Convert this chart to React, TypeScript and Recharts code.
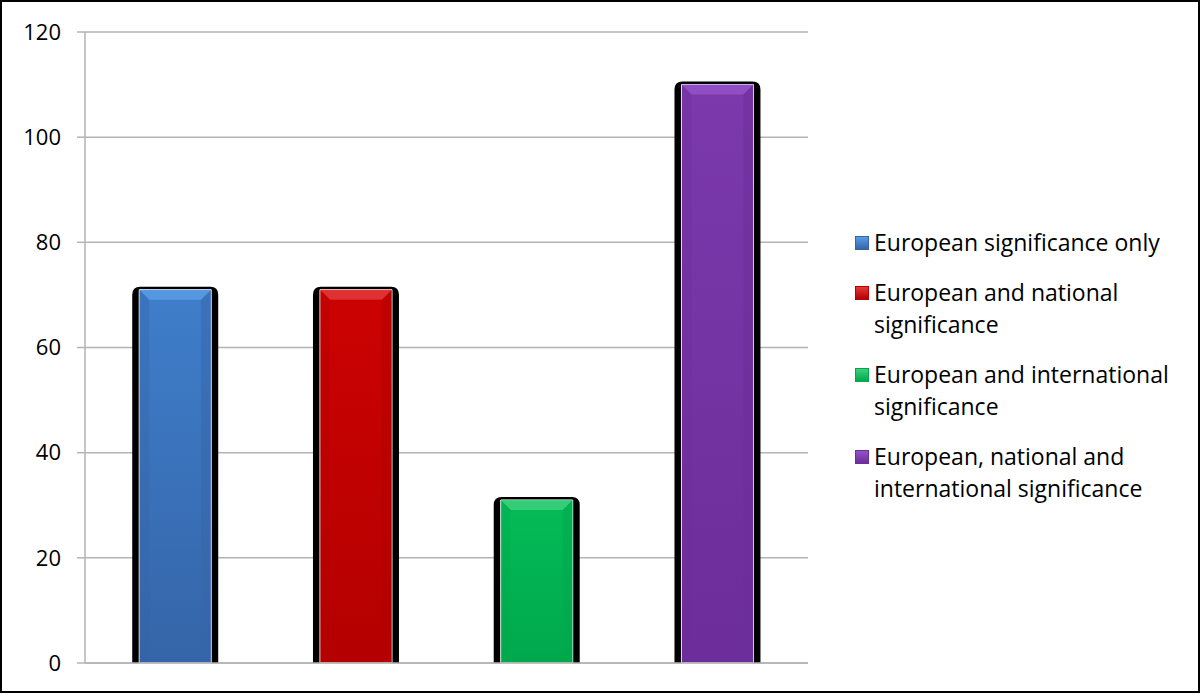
import React from "react";
import { BarChart, Bar, XAxis, YAxis, CartesianGrid, Cell } from "recharts";

const categories = [
  "European significance only",
  "European and national significance",
  "European and international significance",
  "European, national and international significance",
];
const legendLines = [
  ["European significance only"],
  ["European and national", "significance"],
  ["European and international", "significance"],
  ["European, national and", "international significance"],
];
const counts = [71, 71, 31, 110];
const yTicks = [0, 20, 40, 60, 80, 100, 120];

const palette = [
  { light: "#5a9be6", mid: "#3f7ecb", dark: "#3565a8" },
  { light: "#e23a3a", mid: "#cc0202", dark: "#b40000" },
  { light: "#3fd07e", mid: "#04bc58", dark: "#00a84c" },
  { light: "#9552c8", mid: "#7b39ab", dark: "#6c2e9a" },
];

const data = categories.map((name, i) => ({ name, value: counts[i] }));

const FONT = "'Open Sans', sans-serif";

function BevelBar(props: any) {
  const x = Number(props.x);
  const y = Number(props.y);
  const w = Number(props.width);
  const h = Number(props.height);
  const c = palette[props.index];
  const b = 10;
  const id = `bevel-grad-${props.index}`;
  const r = 8;
  const L = x - 7;
  const R = x + w + 7;
  const T = y - 3;
  const B = y + h;
  const shadow = `M${L},${B} L${L},${T + r} Q${L},${T} ${L + r},${T} L${R - r},${T} Q${R},${T} ${R},${T + r} L${R},${B} Z`;
  const body = `M${x},${y} L${x + w},${y} L${x + w},${B} L${x},${B} Z`;
  return (
    <g>
      <defs>
        <linearGradient id={id} x1="0" y1="0" x2="0" y2="1">
          <stop offset="0" stopColor={c.mid} />
          <stop offset="1" stopColor={c.dark} />
        </linearGradient>
      </defs>
      <path d={shadow} fill="#000" />
      <path d={body} fill={`url(#${id})`} stroke="#fff" strokeWidth={1} />
      <polygon
        points={`${x},${y} ${x + w},${y} ${x + w - b},${y + b} ${x + b},${y + b}`}
        fill={c.light}
        opacity={0.85}
      />
      <polygon
        points={`${x},${y} ${x + b},${y + b} ${x + b},${B - 4} ${x},${B}`}
        fill={c.dark}
        opacity={0.35}
      />
      <polygon
        points={`${x + w},${y} ${x + w - b},${y + b} ${x + w - b},${B - 4} ${x + w},${B}`}
        fill={c.dark}
        opacity={0.5}
      />
    </g>
  );
}

function LegendBox() {
  return (
    <div
      style={{
        position: "absolute",
        left: 853,
        top: 224,
        width: 345,
        fontFamily: FONT,
        fontSize: 23,
        color: "#000",
        lineHeight: "32px",
      }}
    >
      {legendLines.map((l, i) => (
        <div key={i} style={{ display: "flex", marginBottom: 18 }}>
          <div
            style={{
              width: 14,
              height: 14,
              marginTop: 10,
              marginRight: 5,
              flexShrink: 0,
              background: `linear-gradient(${palette[i].light}, ${palette[i].dark})`,
              border: `1px solid ${palette[i].dark}`,
              boxSizing: "border-box",
            }}
          />
          <div>
            {l.map((t, j) => (
              <div key={j}>{t}</div>
            ))}
          </div>
        </div>
      ))}
    </div>
  );
}

export default function App() {
  return (
    <div
      style={{
        position: "absolute",
        left: 0,
        top: 0,
        width: 1200,
        height: 693,
        border: "2px solid #000",
        boxSizing: "border-box",
        background: "#fff",
      }}
    >
      <BarChart
        width={1196}
        height={689}
        data={data}
        margin={{ top: 30, right: 390, left: 0, bottom: 27 }}
        barCategoryGap="30%"
      >
        <CartesianGrid vertical={false} stroke="#b3b3b3" strokeWidth={1.5} />
        <XAxis dataKey="name" tick={false} tickLine={false} axisLine={{ stroke: "#b3b3b3", strokeWidth: 1.5 }} height={1} />
        <YAxis
          domain={[0, 120]}
          ticks={yTicks}
          width={83}
          tickSize={8}
          tickMargin={16}
          tickLine={{ stroke: "#b3b3b3", strokeWidth: 1.5 }}
          axisLine={{ stroke: "#b3b3b3", strokeWidth: 1.5 }}
          tick={{ fill: "#000", fontSize: 22, fontFamily: FONT }}
        />
        <Bar dataKey="value" shape={<BevelBar />} isAnimationActive={false}>
          {data.map((d, i) => (
            <Cell key={d.name} fill={palette[i].mid} />
          ))}
        </Bar>
      </BarChart>
      <LegendBox />
    </div>
  );
}
